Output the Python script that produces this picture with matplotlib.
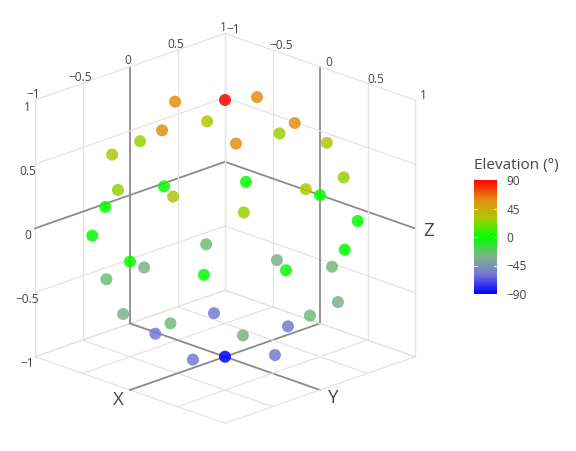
import numpy as np
import matplotlib
matplotlib.use('Agg')
import matplotlib.pyplot as plt
from matplotlib.colors import LinearSegmentedColormap, Normalize
from mpl_toolkits.mplot3d import proj3d

# 42 points on the unit sphere (degrees)
elevation = [90,
             58.3, 58.3, 58.3, 58.3, 58.3,
             31.7, 31.7, 31.7, 31.7, 31.7,
             26.6, 26.6, 26.6, 26.6, 26.6,
             0, 0, 0, 0, 0, 0, 0, 0, 0, 0,
             -26.6, -26.6, -26.6, -26.6, -26.6,
             -31.7, -31.7, -31.7, -31.7, -31.7,
             -58.3, -58.3, -58.3, -58.3, -58.3,
             -90]
azimuth = [0,
           36, 108, 180, 252, 324,
           0, 72, 144, 216, 288,
           36, 108, 180, 252, 324,
           18, 54, 90, 126, 162, 198, 234, 270, 306, 342,
           0, 72, 144, 216, 288,
           36, 108, 180, 252, 324,
           0, 72, 144, 216, 288,
           0]

axis_ticks = [-1, -0.5, 0, 0.5, 1]
axis_ticklabels = ['\u22121', '\u22120.5', '0', '0.5', '1']
cbar_ticks = [-90, -45, 0, 45, 90]
cbar_ticklabels = ['\u221290', '\u221245', '0', '45', '90']

el = np.radians(elevation)
az = np.radians(azimuth)
xs = np.cos(el) * np.cos(az)
ys = np.cos(el) * np.sin(az)
zs = np.sin(el)

cmap = LinearSegmentedColormap.from_list('elev', [
    (0.0, '#0000ff'), (0.176, '#7878d6'), (0.333, '#7cb488'), (0.5, '#00ff00'),
    (0.667, '#adca08'), (0.824, '#e28f0e'), (1.0, '#ff0000')])
norm = Normalize(vmin=-90, vmax=90)

W, H = 576, 451
fig = plt.figure(figsize=(W / 100, H / 100), dpi=100)
ax = fig.add_axes([0, 0, 0.78, 1], projection='3d', proj_type='ortho')
ax.view_init(elev=20.5, azim=-45)
ax.set_box_aspect((1, 1, 1.02))
ax.set_xlim(-1, 1)
ax.set_ylim(-1, 1)
ax.set_zlim(-1, 1)
ax.set_axis_off()
ax.computed_zorder = False

grid_col = '#e3e3e3'
zero_col = '#8a8a8a'
for v in axis_ticks:
    c = zero_col if v == 0 else grid_col
    lw = 1.3 if v == 0 else 0.9
    # floor
    ax.plot([v, v], [-1, 1], [-1, -1], color=c, lw=lw, zorder=1)
    ax.plot([-1, 1], [v, v], [-1, -1], color=c, lw=lw, zorder=1)
    # back wall x = -1
    ax.plot([-1, -1], [v, v], [-1, 1], color=c, lw=lw, zorder=1)
    ax.plot([-1, -1], [-1, 1], [v, v], color=c, lw=lw, zorder=1)
    # back wall y = 1
    ax.plot([v, v], [1, 1], [-1, 1], color=c, lw=lw, zorder=1)
    ax.plot([-1, 1], [1, 1], [v, v], color=c, lw=lw, zorder=1)

ax.scatter(xs, ys, zs, c=elevation, cmap=cmap, norm=norm, s=75, alpha=0.85,
           edgecolors='none', depthshade=False, zorder=3)


def screen(x, y, z):
    X, Y, _ = proj3d.proj_transform(x, y, z, ax.get_proj())
    return np.array(ax.transData.transform((X, Y)))


# fit the cube to the reference layout
for _ in range(3):
    fig.canvas.draw()
    bb = ax.get_position()
    cx, cy = (bb.x0 + bb.x1) / 2 * W, (bb.y0 + bb.y1) / 2 * H
    p1 = screen(-1, -1, 1)
    p2 = screen(1, 1, -1)
    k = (415 - 35) / (p2[0] - p1[0])
    t1 = np.array([35, H - 100])
    c_new = t1 - k * (p1 - np.array([cx, cy]))
    w_new = bb.width * W * k
    h_new = bb.height * H * k
    ax.set_position([(c_new[0] - w_new / 2) / W, (c_new[1] - h_new / 2) / H,
                     w_new / W, h_new / H])
fig.canvas.draw()


def label(x, y, z, s, **kw):
    px, py = screen(x, y, z)
    fig.text(px / W, py / H, s, ha='center', va='center', family='Open Sans',
             color='#444444', **kw)


for v, lab in zip(axis_ticks, axis_ticklabels):
    label(-1, -1.08, v - 0.035, lab, fontsize=8.6)
    label(-1.02, v, 1.04, lab, fontsize=8.6)
    label(v, 1.09, 1.01, lab, fontsize=8.6)

label(0, -1.12, -1.05, 'X', fontsize=13.5)
label(1.14, 0, -1.03, 'Y', fontsize=13.5)
label(1.07, 1.07, -0.02, 'Z', fontsize=13.5)

cax = fig.add_axes([474 / W, (H - 294) / H, 23 / W, 114 / H])
sm = plt.cm.ScalarMappable(norm=norm, cmap=cmap)
cb = fig.colorbar(sm, cax=cax, ticks=cbar_ticks)
cb.ax.set_yticklabels(cbar_ticklabels)
cb.outline.set_visible(False)
cb.ax.tick_params(length=0, pad=7, labelsize=8.6, labelcolor='#444444')
for t in cb.ax.get_yticklabels():
    t.set_family('Open Sans')
for v in cbar_ticks[1:-1]:
    cb.ax.plot([0, 0.12], [v, v], color='#e8e8e8', lw=0.8, transform=cb.ax.get_yaxis_transform())
    cb.ax.plot([0.88, 1], [v, v], color='#e8e8e8', lw=0.8, transform=cb.ax.get_yaxis_transform())
fig.text(474 / W, 1 - 165 / H, 'Elevation (\u00b0)', ha='left', va='center',
         fontsize=11, color='#444444', family='Open Sans')

fig.savefig('out.png', dpi=100)
